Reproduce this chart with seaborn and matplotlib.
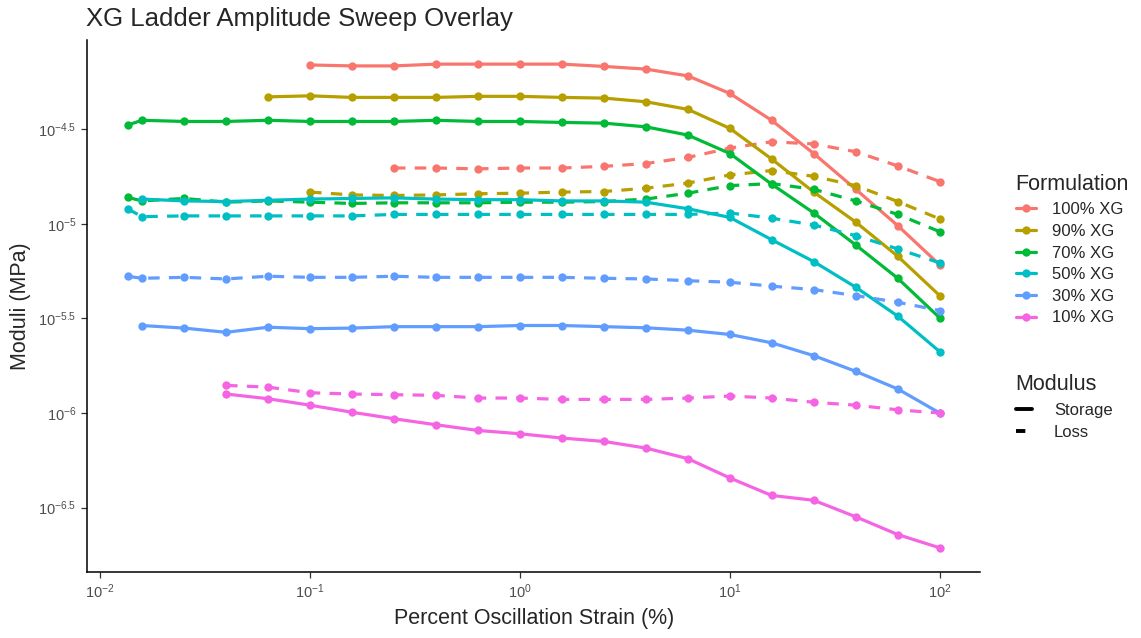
import numpy as np
import pandas as pd
import matplotlib
matplotlib.use("Agg")
import matplotlib.pyplot as plt
from matplotlib.lines import Line2D
import seaborn as sns

# strain grid (percent)
strain = [0.0135, 0.0158, 0.0251, 0.0398, 0.0631, 0.1, 0.158, 0.251, 0.398, 0.631,
          1.0, 1.58, 2.51, 3.98, 6.31, 10.0, 15.8, 25.1, 39.8, 63.1, 100.0]

formulations = ["100% XG", "90% XG", "70% XG", "50% XG", "30% XG", "10% XG"]
colors = ["#F8766D", "#B79F00", "#00BA38", "#00BFC4", "#619CFF", "#F564E3"]

# storage moduli (MPa)
g1_100 = [6.90e-5, 6.82e-5, 6.82e-5, 6.97e-5, 6.97e-5, 6.97e-5, 6.97e-5, 6.78e-5, 6.56e-5,
          6.04e-5, 4.88e-5, 3.52e-5, 2.35e-5, 1.52e-5, 9.77e-6, 6.06e-6]
g1_90 = [4.68e-5, 4.74e-5, 4.65e-5, 4.65e-5, 4.65e-5, 4.71e-5, 4.71e-5, 4.65e-5, 4.61e-5,
         4.41e-5, 4.02e-5, 3.19e-5, 2.20e-5, 1.47e-5, 1.02e-5, 6.73e-6, 4.17e-6]
g1_70 = [3.32e-5, 3.52e-5, 3.47e-5, 3.47e-5, 3.52e-5, 3.47e-5, 3.47e-5, 3.47e-5, 3.52e-5,
         3.47e-5, 3.47e-5, 3.43e-5, 3.40e-5, 3.25e-5, 2.94e-5, 2.35e-5, 1.62e-5, 1.14e-5,
         7.72e-6, 5.15e-6, 3.18e-6]
g1_50 = [1.35e-5, 1.32e-5, 1.31e-5, 1.33e-5, 1.35e-5, 1.36e-5, 1.37e-5, 1.35e-5, 1.34e-5,
         1.34e-5, 1.32e-5, 1.32e-5, 1.30e-5, 1.20e-5, 1.08e-5, 8.24e-6, 6.31e-6, 4.62e-6,
         3.25e-6, 2.11e-6]
g1_30 = [2.90e-6, 2.81e-6, 2.67e-6, 2.84e-6, 2.79e-6, 2.81e-6, 2.86e-6, 2.86e-6, 2.86e-6,
         2.90e-6, 2.90e-6, 2.86e-6, 2.82e-6, 2.74e-6, 2.60e-6, 2.35e-6, 2.01e-6, 1.66e-6,
         1.34e-6, 1.00e-6]
g1_10 = [1.26e-6, 1.19e-6, 1.10e-6, 1.01e-6, 9.33e-7, 8.67e-7, 8.09e-7, 7.77e-7, 7.38e-7,
         7.08e-7, 6.53e-7, 5.74e-7, 4.54e-7, 3.67e-7, 3.46e-7, 2.83e-7, 2.28e-7, 1.94e-7]

# loss moduli (MPa)
g2_100 = [1.97e-5, 1.97e-5, 1.95e-5, 1.97e-5, 1.97e-5, 2.01e-5, 2.08e-5, 2.24e-5, 2.51e-5,
          2.71e-5, 2.64e-5, 2.40e-5, 2.02e-5, 1.67e-5]
g2_90 = [1.47e-5, 1.42e-5, 1.41e-5, 1.42e-5, 1.44e-5, 1.45e-5, 1.47e-5, 1.48e-5, 1.54e-5,
         1.64e-5, 1.81e-5, 1.91e-5, 1.78e-5, 1.59e-5, 1.31e-5, 1.06e-5]
g2_70 = [1.38e-5, 1.32e-5, 1.36e-5, 1.30e-5, 1.32e-5, 1.30e-5, 1.28e-5, 1.29e-5, 1.29e-5,
         1.29e-5, 1.30e-5, 1.30e-5, 1.31e-5, 1.35e-5, 1.45e-5, 1.59e-5, 1.63e-5, 1.52e-5,
         1.32e-5, 1.12e-5, 9.08e-6]
g2_50 = [1.20e-5, 1.09e-5, 1.10e-5, 1.10e-5, 1.10e-5, 1.10e-5, 1.10e-5, 1.12e-5, 1.12e-5,
         1.12e-5, 1.12e-5, 1.12e-5, 1.12e-5, 1.12e-5, 1.12e-5, 1.14e-5, 1.07e-5, 9.85e-6,
         8.65e-6, 7.36e-6, 6.21e-6]
g2_30 = [5.28e-6, 5.15e-6, 5.21e-6, 5.11e-6, 5.28e-6, 5.21e-6, 5.21e-6, 5.28e-6, 5.21e-6,
         5.21e-6, 5.21e-6, 5.21e-6, 5.15e-6, 5.11e-6, 5.00e-6, 4.91e-6, 4.68e-6, 4.49e-6,
         4.17e-6, 3.85e-6, 3.48e-6]
g2_10 = [1.40e-6, 1.37e-6, 1.28e-6, 1.26e-6, 1.25e-6, 1.24e-6, 1.20e-6, 1.20e-6, 1.18e-6,
         1.18e-6, 1.18e-6, 1.20e-6, 1.23e-6, 1.20e-6, 1.14e-6, 1.10e-6, 1.04e-6, 1.00e-6]

storage = dict(zip(formulations, [g1_100, g1_90, g1_70, g1_50, g1_30, g1_10]))
loss = dict(zip(formulations, [g2_100, g2_90, g2_70, g2_50, g2_30, g2_10]))

# long format: each series ends at 100 %, so align on the tail of the strain grid
rows = []
for name in formulations:
    for mod, table in (("Storage", storage), ("Loss", loss)):
        vals = table[name]
        for s, v in zip(strain[len(strain) - len(vals):], vals):
            rows.append({"Formulation": name, "Modulus": mod, "strain": s, "moduli": v})
df = pd.DataFrame(rows)

sns.set_style("ticks")
plt.rcParams["font.family"] = ["Liberation Sans", "DejaVu Sans"]
plt.rcParams["mathtext.fontset"] = "custom"
plt.rcParams["mathtext.rm"] = "Liberation Sans"
plt.rcParams["mathtext.it"] = "Liberation Sans"

fig = plt.figure(figsize=(11.41, 6.38), dpi=100)
ax = fig.add_axes([0.0762, 0.1034, 0.783, 0.834])

sns.lineplot(data=df, x="strain", y="moduli", hue="Formulation", style="Modulus",
             hue_order=formulations, style_order=["Storage", "Loss"],
             palette=colors, dashes={"Storage": "", "Loss": (3.6, 2.9)},
             markers={"Storage": "o", "Loss": "o"}, markersize=6, markeredgewidth=0,
             linewidth=2.3, sort=True, estimator=None, legend=False, ax=ax)

ax.set_xscale("log")
ax.set_yscale("log")

# ggplot-like 5% expansion in log space
lx = np.log10(df["strain"])
ly = np.log10(df["moduli"])
ex = 0.05 * (lx.max() - lx.min())
ey = 0.05 * (ly.max() - ly.min())
ax.set_xlim(10 ** (lx.min() - ex), 10 ** (lx.max() + ex))
ax.set_ylim(10 ** (ly.min() - ey), 10 ** (ly.max() + ey))

xt = [-2, -1, 0, 1, 2]
ax.set_xticks([10.0 ** t for t in xt])
ax.set_xticklabels([f"$10^{{{t}}}$" for t in xt])
yt = [-6.5, -6, -5.5, -5, -4.5]
ax.set_yticks([10.0 ** t for t in yt])
ax.set_yticklabels([f"$10^{{{t:g}}}$" for t in yt])
ax.minorticks_off()
ax.tick_params(axis="both", labelsize=10.5, colors="#333333", length=4, width=0.9,
               labelcolor="#4D4D4D")
for side in ("left", "bottom"):
    ax.spines[side].set_linewidth(1.1)
    ax.spines[side].set_color("black")
sns.despine(ax=ax)

ax.set_xlabel("Percent Oscillation Strain (%)", fontsize=15.5, labelpad=5)
ax.set_ylabel("Moduli (MPa)", fontsize=15.5, labelpad=5)
fig.text(0.0755, 0.952, "XG Ladder Amplitude Sweep Overlay", fontsize=18.5, ha="left", va="bottom")

form_handles = [Line2D([], [], color=c, lw=2.3, marker="o", markersize=6, markeredgewidth=0)
                for c in colors]
leg1 = fig.legend(form_handles, formulations, title="Formulation", loc="upper left",
                  bbox_to_anchor=(0.877, 0.75), frameon=False, fontsize=12,
                  title_fontsize=15.5, handlelength=1.2, handletextpad=1.0,
                  labelspacing=0.4, alignment="left")
mod_handles = [Line2D([], [], color="black", lw=2.8),
               Line2D([], [], color="black", lw=2.8, dashes=(2.4, 6))]
leg2 = fig.legend(mod_handles, ["Storage", "Loss"], title="Modulus", loc="upper left",
                  bbox_to_anchor=(0.877, 0.437), frameon=False, fontsize=12,
                  title_fontsize=15.5, handlelength=1.0, handletextpad=1.3,
                  labelspacing=0.45, alignment="left")

fig.savefig("out.png", dpi=100)
